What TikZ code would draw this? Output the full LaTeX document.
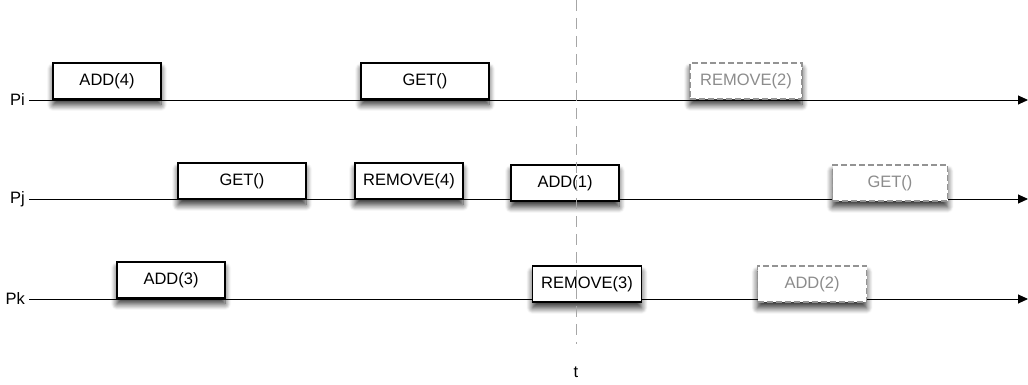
\documentclass[tikz,border=0pt]{standalone}
\usepackage{fontspec}
\setmainfont{Liberation Sans}
\usetikzlibrary{arrows.meta,shadows.blur}

\tikzset{
  opbox/.style={draw=black, line width=1.3pt, fill=white, inner sep=0pt,
    minimum height=36pt, font=\fontsize{16.5}{19}\selectfont,
    blur shadow={shadow xshift=0pt, shadow yshift=-6pt, shadow blur radius=6pt, shadow blur steps=10, shadow opacity=80}},
  futurebox/.style={opbox, draw=gray!85, dashed, dash pattern=on 6pt off 3pt, text=gray!90},
  proclabel/.style={anchor=east, inner sep=4pt, font=\fontsize{16.5}{19}\selectfont},
  timeline/.style={line width=0.9pt, -{Triangle[length=10pt,width=9pt]}}
}

\begin{document}
\begin{tikzpicture}[x=1pt,y=1pt]
		\useasboundingbox (0,0) rectangle (1028,385);
		% ===== Processes and time lines =====
		\foreach \p/\lab/\y in {pi/Pi/285, pj/Pj/186, pk/Pk/86} {
			\node[proclabel] (\p) at (29,\y) {\lab};
			\coordinate (\p end) at (1028,\y);
			\draw[timeline] (\p.east) -- (\p end);
		}
		% ===== Operations done =====
		\foreach \n/\x/\y/\w/\lab in {addfour/107/304/108/{ADD(4)}, getpi/425/304/128/{GET()},
			getpj/242/204/128/{GET()}, removefour/409/204/108/{REMOVE(4)}, addone/565/202/108/{ADD(1)},
			addthree/171/105/108/{ADD(3)}, removethree/587/101/109/{REMOVE(3)}} {
			\node[opbox, minimum width=\w] (\n) at (\x,\y) {\lab};
		}
		% ===== Operations still to come =====
		\foreach \n/\x/\y/\w/\lab in {removetwo/746/304/112/{REMOVE(2)}, getlast/890/202/115/{GET()},
			addtwo/812/101/109/{ADD(2)}} {
			\node[futurebox, minimum width=\w] (\n) at (\x,\y) {\lab};
		}
		% ===== Cut at time t =====
		\node[font=\fontsize{16.5}{19}\selectfont] (t) at (576,13) {t};
		\coordinate (ttop) at (576,385);
		\coordinate (tbot) at (576,41);
		\draw[gray!70, line width=1pt, dash pattern=on 11pt off 7pt] (ttop) -- (tbot);
	\end{tikzpicture}
\end{document}
